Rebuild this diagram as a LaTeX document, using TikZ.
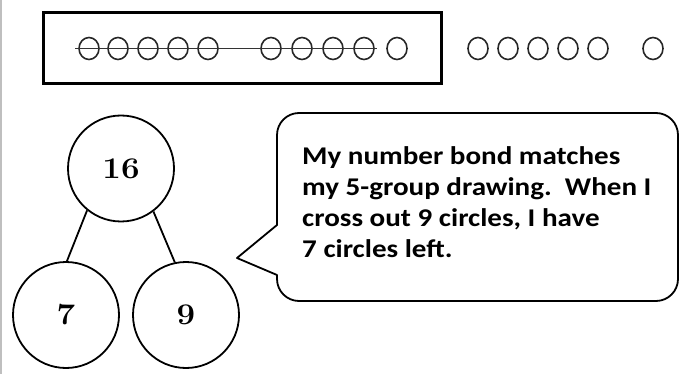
\documentclass[tikz,border=0pt]{standalone}
\usepackage{fontspec}
\newfontfamily\bubblefont{Carlito}[FakeStretch=1.14]
\usetikzlibrary{shapes.geometric}
\tikzset{
  dot/.style={draw=black!85, ellipse, line width=1.6pt, minimum width=20pt, minimum height=22pt, inner sep=0pt},
  bond/.style={draw, circle, line width=1.8pt, minimum size=106pt, inner sep=0pt, font=\fontsize{30}{32}\selectfont\bfseries},
  frame/.style={draw, line width=3pt},
  strike/.style={draw=black!80, line width=1pt},
  bubble/.style={draw, line width=1.8pt, line join=round},
  link/.style={draw, line width=1.8pt}
}
\newcommand\wide[1]{\scalebox{1.1}[1]{#1}}
\begin{document}
\begin{tikzpicture}[x=1pt,y=-1pt]
\useasboundingbox (0,0) rectangle (680,374);
\draw[gray!50, line width=2pt] (1,0) -- (1,374);
% five-group box
\node[frame, minimum width=398pt, minimum height=71pt, anchor=north west, inner sep=0pt] (box) at (42,11) {};
\foreach \x [count=\i] in {89,118,148,178,208,271,302,333,364} {
  \node[dot] (c\i) at (\x,48.5) {};
}
\node[dot] (c10) at (397,48.5) {};
\coordinate (s1) at (75,49);
\coordinate (s2) at (377,49);
\draw[strike] (s1) -- (s2);
\foreach \x [count=\i] in {478,508,538,568,598} {
  \node[dot] (d\i) at (\x,48.5) {};
}
\node[dot] (d6) at (653,48.5) {};
% number bond
\node[bond] (t) at (121,168.5) {\wide{16}};
\node[bond] (l) at (66,315) {\wide{7}};
\node[bond] (r) at (186,315) {\wide{9}};
\draw[link] (t.231) -- (l.89);
\draw[link] (t.307) -- (r.102);
% speech bubble
\draw[bubble] (277,225) -- (237,258) -- (277,275) -- (277,279)
  .. controls (277,291.1) and (286.9,301) .. (299,301) -- (656,301)
  .. controls (668.1,301) and (678,291.1) .. (678,279) -- (678,135)
  .. controls (678,122.9) and (668.1,113) .. (656,113) -- (299,113)
  .. controls (286.9,113) and (277,122.9) .. (277,135) -- cycle;
\node[anchor=base west, align=left, inner sep=0pt, font=\bubblefont\bfseries\fontsize{25.5}{31}\selectfont] (txt) at (302,258)
  {My number bond matches\\my 5-group drawing.\ \ When I\\cross out 9 circles, I have\\7 circles left.};
\end{tikzpicture}
\end{document}
